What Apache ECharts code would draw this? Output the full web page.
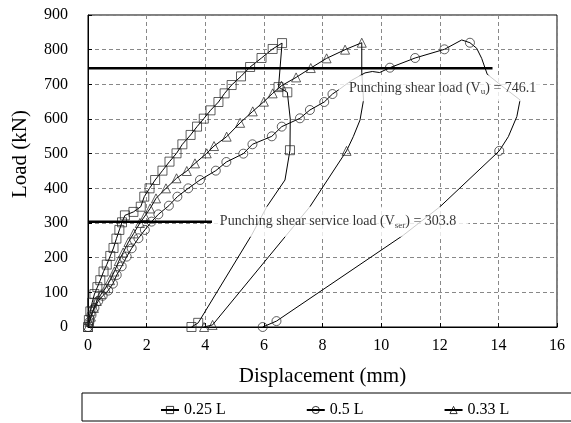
<!DOCTYPE html>
<html>
<head>
<meta charset="utf-8">
<script src="https://cdn.jsdelivr.net/npm/echarts@6/dist/echarts.min.js"></script>
<style>html,body{margin:0;padding:0;background:#fff;}#c{width:571px;height:423px;}</style>
</head>
<body>
<div id="c"></div>
<script>
// ---- data ----
const seriesNames = ['0.25 L', '0.5 L', '0.33 L'];

// 0.25 L (squares)
const load025 = [[0,0],[0.03,20],[0.08,45],[0.14,70],[0.22,95],[0.32,115],[0.42,135],[0.53,160],[0.64,180],[0.76,205],[0.87,228],[0.97,255],[1.07,280],[1.16,302],[1.26,322],[1.55,332],[1.8,347],[1.92,376],[2.1,400],[2.29,424],[2.54,451],[2.78,477],[3.02,501],[3.22,527],[3.5,554],[3.72,578],[3.95,601],[4.18,625],[4.45,649],[4.66,674],[4.9,698],[5.22,723],[5.53,750],[5.92,776],[6.3,802],[6.62,819]];
const unload025 = [[6.5,692],[6.8,677],[6.9,600],[6.89,510],[6.72,424],[6.1,347],[5.58,265],[3.76,12],[3.53,0]];
const unloadMarks025 = [[6.5,692],[6.8,677],[6.89,510],[3.76,12],[3.53,0]];

// 0.5 L (circles)
const load05 = [[0,0],[0.05,15],[0.12,35],[0.22,55],[0.35,75],[0.5,90],[0.69,105],[0.85,125],[0.98,150],[1.15,175],[1.32,203],[1.49,227],[1.72,256],[1.94,280],[2.17,304],[2.4,325],[2.76,350],[3.05,376],[3.42,400],[3.82,424],[4.36,451],[4.72,476],[5.3,500],[5.61,527],[6.27,550],[6.61,578],[7.23,602],[7.57,626],[8.06,649],[8.34,672]];
const unload05 = [[8.55,684],[9.0,712],[9.45,733],[9.7,737],[9.95,734],[10.3,748],[11.16,776],[12.16,801],[12.75,828],[13.03,820],[13.26,804],[13.43,775],[13.62,729],[14.2,690],[14.74,655],[14.63,607],[14.34,549],[14.03,508],[12.01,347],[10.76,265],[6.43,17],[5.96,0]];
const unloadMarks05 = [[10.3,748],[11.16,776],[12.16,801],[13.03,820],[14.03,508],[6.43,17],[5.96,0]];

// 0.33 L (triangles)
const load033 = [[0,0],[0.05,15],[0.1,30],[0.2,55],[0.3,75],[0.45,95],[0.6,112],[0.75,135],[0.9,160],[1.05,190],[1.2,215],[1.38,245],[1.56,270],[1.77,300],[1.94,320],[2.12,342],[2.32,371],[2.66,400],[3.02,429],[3.37,450],[3.65,472],[4.05,501],[4.3,522],[4.73,549],[5.19,589],[5.62,622],[6.0,650],[6.3,674],[6.6,696],[7.1,720],[7.6,747],[8.14,775],[8.77,800],[9.34,820]];
const unload033 = [[9.34,735],[9.4,655],[9.28,597],[9.05,549],[8.82,508],[7.57,347],[6.77,265],[4.25,6],[3.96,0]];
const unloadMarks033 = [[8.82,508],[4.25,6],[3.96,0]];

// reference loads
const Vu = 746.1, VuEnd = 13.8;
const Vser = 303.8, VserEnd = 4.23;

const serif = 'Liberation Serif, Times New Roman, serif';
const chart = echarts.init(document.getElementById('c'));

function curve(name, symbol, load, unload, marks) {
  return [
    { name, type: 'line', data: load.concat(unload), symbol, symbolSize: 9, showSymbol: false,
      lineStyle: { color: '#000', width: 1 }, itemStyle: { color: 'rgba(0,0,0,0)', borderColor: '#000', borderWidth: 1 },
      emphasis: { disabled: true }, z: 3 },
    { name, type: 'scatter', data: load.concat(marks), symbol, symbolSize: 9,
      itemStyle: { color: 'rgba(0,0,0,0)', borderColor: '#222', borderWidth: 0.9 },
      emphasis: { disabled: true }, z: 4 }
  ];
}

const sub = { fontSize: 9, fontFamily: serif, color: '#000', verticalAlign: 'bottom', lineHeight: 16 };
const txt = { fontSize: 14, fontFamily: serif, color: '#000', lineHeight: 16 };

chart.setOption({
  animation: false,
  backgroundColor: '#fff',
  grid: { left: 88, right: 14, top: 15, bottom: 96, show: true, borderColor: '#000', borderWidth: 1 },
  xAxis: {
    type: 'value', min: 0, max: 16, interval: 2,
    name: 'Displacement (mm)', nameLocation: 'middle', nameGap: 39,
    nameTextStyle: { fontFamily: serif, fontSize: 21, color: '#000' },
    axisLine: { lineStyle: { color: '#000', width: 1 } },
    axisTick: { inside: true, length: 4, lineStyle: { color: '#000' } },
    axisLabel: { fontFamily: serif, fontSize: 16, color: '#000', margin: 11 },
    splitLine: { show: true, lineStyle: { type: [4, 3], color: '#888', width: 1 } }
  },
  yAxis: {
    type: 'value', min: 0, max: 900, interval: 100,
    name: 'Load (kN)', nameLocation: 'middle', nameGap: 57,
    nameTextStyle: { fontFamily: serif, fontSize: 21, color: '#000', padding: [0, 0, 0, 34] },
    axisLine: { show: true, lineStyle: { color: '#000', width: 1 } },
    axisTick: { show: true, inside: true, length: 4, lineStyle: { color: '#000' } },
    axisLabel: { fontFamily: serif, fontSize: 16, color: '#000', margin: 20 },
    splitLine: { show: true, lineStyle: { type: [4, 3], color: '#888', width: 1 } }
  },
  legend: {
    data: seriesNames, left: 155, top: 397, itemGap: 80, itemWidth: 18, itemHeight: 9,
    itemStyle: { color: 'rgba(0,0,0,0)', borderColor: '#000', borderWidth: 0.8 },
    textStyle: { fontFamily: serif, fontSize: 16, color: '#000' }, selectedMode: false
  },
  graphic: [{ type: 'rect', shape: { x: 82, y: 393, width: 500, height: 28 }, style: { fill: 'none', stroke: '#000', lineWidth: 1 }, silent: true }],
  series: [
    ...curve(seriesNames[0], 'rect', load025, unload025, unloadMarks025),
    ...curve(seriesNames[1], 'circle', load05, unload05, unloadMarks05),
    ...curve(seriesNames[2], 'triangle', load033, unload033, unloadMarks033),
    { name: 'Vu', type: 'line', data: [[0, Vu], [VuEnd, Vu]], symbol: 'none', silent: true,
      lineStyle: { color: '#000', width: 2.5 }, z: 5 },
    { name: 'Vser', type: 'line', data: [[0, Vser], [VserEnd, Vser]], symbol: 'none', silent: true,
      lineStyle: { color: '#000', width: 2.5 }, z: 5 },
    { name: 'notes', type: 'scatter', symbolSize: 0, silent: true, z: 10,
      data: [
        { value: [8.56, 689], label: { show: true, position: 'right', distance: 0, backgroundColor: '#fff', padding: [5, 4, 5, 10],
          formatter: '{t|Punching shear load (V}{s|u}{t|) = 746.1}', rich: { t: txt, s: sub } } },
        { value: [4.26, Vser], label: { show: true, position: 'right', distance: 0, backgroundColor: '#fff', padding: [7, 12, 7, 7],
          formatter: '{t|Punching shear service load (V}{s|ser}{t|) = 303.8}', rich: { t: txt, s: sub } } }
      ] }
  ]
});
</script>
</body>
</html>
